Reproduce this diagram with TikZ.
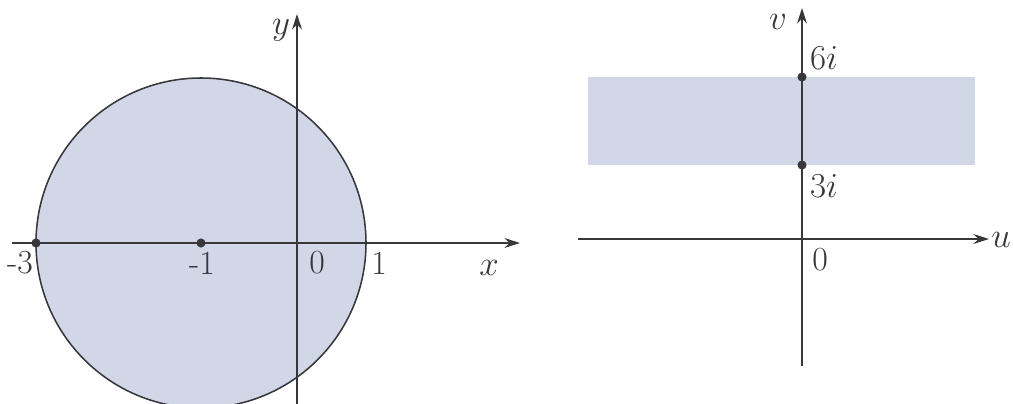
\documentclass[tikz,border=0pt]{standalone}
\usetikzlibrary{arrows.meta,positioning}
\definecolor{bluegray}{RGB}{210,215,232}
\definecolor{ink}{RGB}{55,55,60}
\tikzset{
  axis/.style={draw=ink,line width=1.1pt,-{Stealth[length=11pt,width=7pt]}},
  dot/.style={circle,fill=ink,inner sep=0pt,minimum size=6.5pt},
  lbl/.style={font=\fontsize{24}{27}\selectfont,text=ink}
}
\begin{document}
\begin{tikzpicture}[x=0.025cm,y=-0.025cm]
\useasboundingbox (0,0) rectangle (1013,403);
% left plane
\fill[bluegray,draw=ink,line width=1.1pt] (201,243) circle (165);
\coordinate (xl) at (12,243);
\coordinate (xr) at (520,243);
\coordinate (yb) at (297,410);
\coordinate (yt) at (297,14);
\draw[axis] (xl) -- (xr);
\draw[axis] (yb) -- (yt);
\node[dot] (m3) at (36,243) {};
\node[dot] (m1) at (201,243) {};
\node[lbl] (lm3) at (20,263) {-3};
\node[lbl] (lm1) at (202,263) {-1};
\node[lbl] (l0) at (317,263) {0};
\node[lbl] (l1) at (379,263) {1};
\node[lbl] (lx) at (489,268) {$x$};
\node[lbl] (ly) at (281,30) {$y$};
% right plane
\fill[bluegray] (588,77) rectangle (975,165);
\coordinate (ul) at (578,239);
\coordinate (ur) at (989,239);
\coordinate (vb) at (802,366);
\coordinate (vt) at (802,8);
\draw[axis] (ul) -- (ur);
\draw[axis] (vb) -- (vt);
\node[dot] (p6) at (802,77) {};
\node[dot] (p3) at (802,165) {};
\node[lbl] (l6) at (824,58) {$6i$};
\node[lbl] (l3) at (824,186) {$3i$};
\node[lbl] (lo) at (820,260) {0};
\node[lbl] (lv) at (778,22) {$v$};
\node[lbl,anchor=west,inner sep=0pt] (lu) at (991,240) {$u$};
\end{tikzpicture}
\end{document}
